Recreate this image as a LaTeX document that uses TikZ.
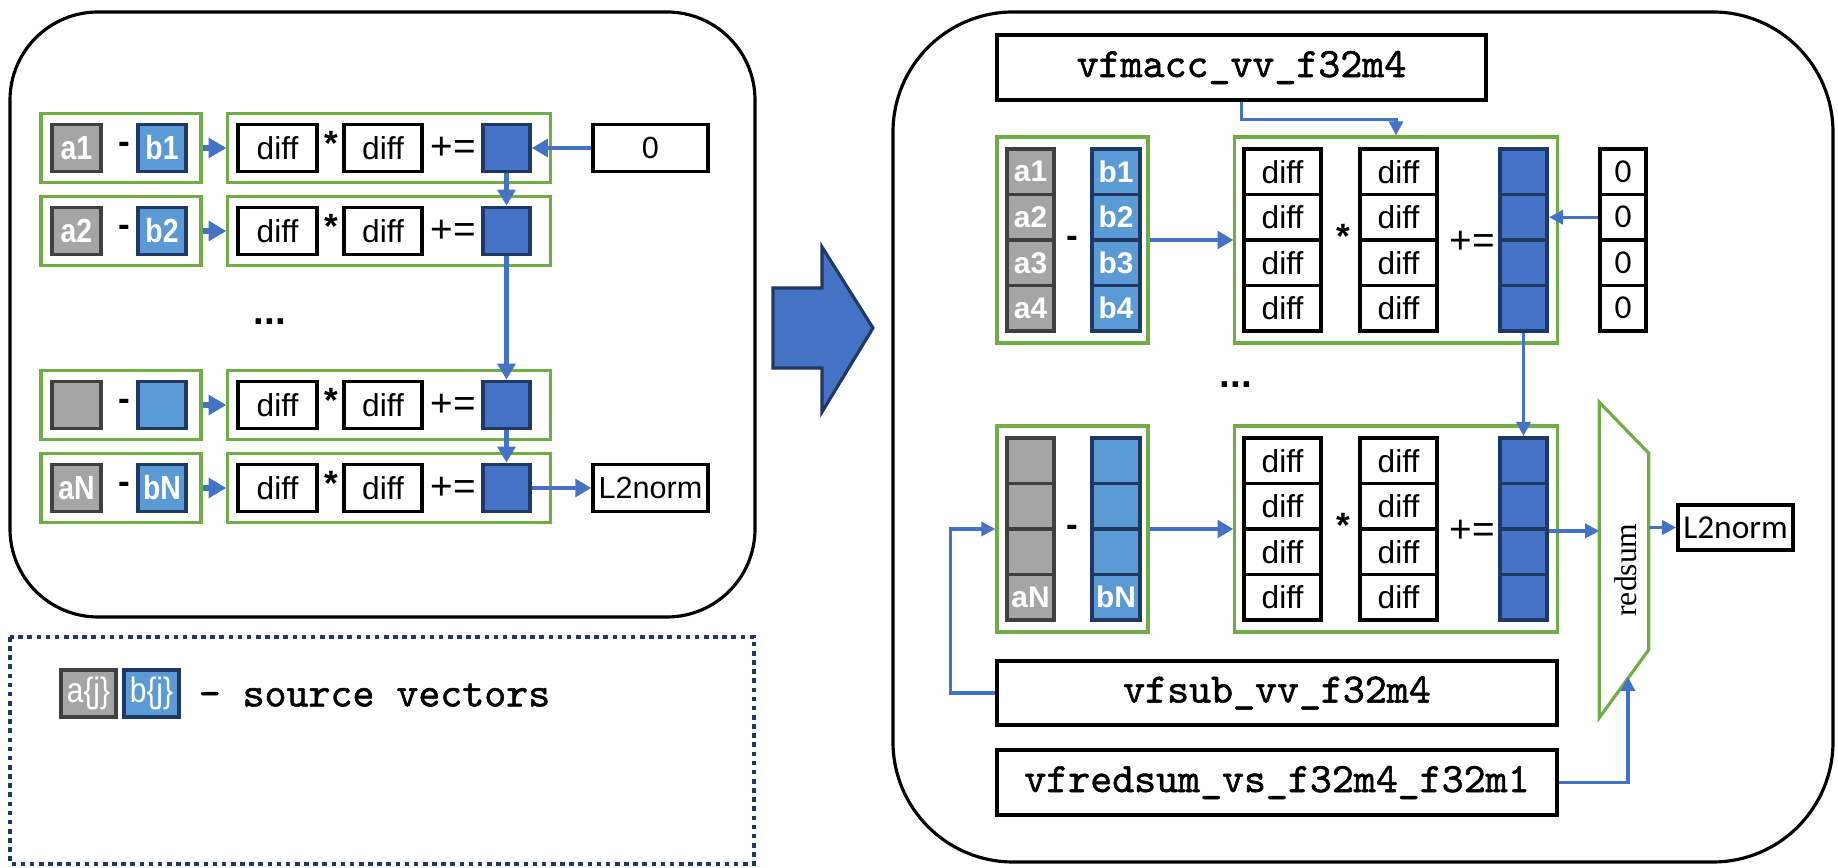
\documentclass[tikz,border=0pt]{standalone}
\usepackage{fontspec}
\setmainfont{Liberation Sans}
\newfontfamily\narrowfont{Liberation Sans}[FakeStretch=0.85]
\newfontfamily\calfont{Carlito}
\newfontfamily\timesfont{Liberation Serif}
\newfontfamily\codefont{lmmono10-regular.otf}[FakeBold=1.2]
\usetikzlibrary{arrows.meta,calc}
\definecolor{grn}{HTML}{70AD47}
\definecolor{gry}{HTML}{A5A5A5}
\definecolor{gryd}{HTML}{404040}
\definecolor{lblu}{HTML}{5B9BD5}
\definecolor{navyd}{HTML}{1F3864}
\definecolor{acc}{HTML}{4472C4}
\definecolor{accd}{HTML}{1F3864}
\definecolor{arrc}{HTML}{4472C4}
\definecolor{dotc}{HTML}{203864}
\tikzset{
 grnbox/.style={draw=grn, line width=0.9pt, inner sep=0pt},
 wcell/.style={draw=black, line width=1pt, fill=white, inner sep=0pt, font=\fontsize{9}{10}\selectfont},
 acellL/.style={draw=gryd, line width=1.1pt, fill=gry, text=white, inner sep=0pt, font=\narrowfont\bfseries\fontsize{9.5}{10}\selectfont},
 bcellL/.style={draw=navyd, line width=1.1pt, fill=lblu, text=white, inner sep=0pt, font=\narrowfont\bfseries\fontsize{9.5}{10}\selectfont},
 acellR/.style={draw=gryd, line width=1.1pt, fill=gry, text=white, inner sep=0pt, font=\bfseries\fontsize{8.5}{10}\selectfont},
 bcellR/.style={draw=navyd, line width=1.1pt, fill=lblu, text=white, inner sep=0pt, font=\bfseries\fontsize{8.5}{10}\selectfont},
 dcell/.style={draw=accd, line width=1.1pt, fill=acc, inner sep=0pt},
 codebox/.style={draw=black, line width=1pt, fill=white, inner sep=0pt, font=\codefont\fontsize{11.9}{13}\selectfont},
 sym/.style={inner sep=0pt, font=\fontsize{10}{11}\selectfont},
 arrL/.style={draw=arrc, line width=1.5pt, -{Triangle[length=5pt,width=5.5pt]}},
 arrM/.style={draw=arrc, line width=1.2pt, -{Triangle[length=4.5pt,width=5pt]}},
 arrS/.style={draw=arrc, line width=0.9pt, -{Triangle[length=4pt,width=4pt]}},
 panel/.style={draw=black, line width=0.9pt},
}
\begin{document}
\begin{tikzpicture}[x=0.01cm,y=-0.01cm]
\useasboundingbox (0,0) rectangle (1838,868);

% ---------------- left panel ----------------
\draw[panel, rounded corners=0.88cm] (10,12) rectangle (755,617);

\foreach \r/\Y/\la/\lb in {1/148/a1/b1, 2/231/a2/b2, 3/405//, 4/488/aN/bN}{
  \node[grnbox, minimum width=1.60cm, minimum height=0.69cm] (lgL\r) at (121,\Y) {};
  \node[grnbox, minimum width=3.22cm, minimum height=0.69cm] (lgR\r) at (389,\Y) {};
  \node[acellL, minimum width=0.49cm, minimum height=0.47cm] (la\r) at (76.5,\Y) {\la};
  \node[sym, font=\bfseries\fontsize{10}{11}\selectfont] (lm\r) at (124,\Y) {-};
  \node[bcellL, minimum width=0.48cm, minimum height=0.47cm] (lb\r) at (162,\Y) {\lb};
  \node[wcell, minimum width=0.79cm, minimum height=0.47cm] (ld\r a) at (277.5,\Y) {diff};
  \node[sym, font=\bfseries\fontsize{10}{11}\selectfont] (ls\r) at (331,\Y-5) {*};
  \node[wcell, minimum width=0.78cm, minimum height=0.47cm] (ld\r b) at (383,\Y) {diff};
  \node[sym, font=\fontsize{11}{12}\selectfont] (lp\r) at (453,\Y) {+=};
  \node[dcell, minimum width=0.47cm, minimum height=0.47cm] (lacc\r) at (506.5,\Y) {};
}
\node[font=\bfseries\fontsize{11}{12}\selectfont] (ldots) at (270,322) {...};
\node[wcell, minimum width=1.15cm, minimum height=0.47cm, font=\fontsize{8.7}{10}\selectfont] (lzero) at (650.5,148) {0};
\node[wcell, minimum width=1.15cm, minimum height=0.47cm, font=\fontsize{8.7}{10}\selectfont] (lnorm) at (650.5,488) {L2norm};

\foreach \r in {1,2,3,4}{ \draw[arrL] (lgL\r.east) -- (lgR\r.west); }
\draw[arrM] (lzero.west) -- (lacc1.east);
\draw[arrM] (lacc1.south) -- (lacc2.north);
\draw[arrM] (lacc2.south) -- (lacc3.north);
\draw[arrM] (lacc3.south) -- (lacc4.north);
\draw[arrM] (lacc4.east) -- (lnorm.west);

% ---------------- legend ----------------
\draw[draw=dotc, line width=1.3pt, dash pattern=on 1.3pt off 1.3pt] (10,637) rectangle (754,864);
\node[draw=gryd, line width=1.3pt, fill=gry, text=white, inner sep=0pt, minimum width=0.55cm, minimum height=0.47cm, font=\narrowfont\fontsize{10}{11}\selectfont] (legA) at (88.5,693.5) {a\{j\}};
\node[draw=navyd, line width=1.3pt, fill=lblu, text=white, inner sep=0pt, minimum width=0.55cm, minimum height=0.47cm, font=\narrowfont\fontsize{10}{11}\selectfont] (legB) at (151.5,693.5) {b\{j\}};
\node[anchor=west, inner sep=0pt, font=\codefont\fontsize{11.9}{13}\selectfont] (legT) at (198,695) {- source vectors};

% ---------------- big arrow ----------------
\draw[fill=acc, draw=navyd, line width=0.9pt, line join=miter] (773,288) -- (822,288) -- (822,247) -- (873,328) -- (822,412) -- (822,368) -- (773,368) -- cycle;

% ---------------- right panel ----------------
\draw[panel, rounded corners=1.2cm] (893,12) rectangle (1833,862);

\node[codebox, minimum width=4.89cm, minimum height=0.65cm] (vfmacc) at (1241.5,67.5) {vfmacc\_vv\_f32m4};

\foreach \r/\Y in {1/240, 2/529}{
  \node[grnbox, minimum width=1.51cm, minimum height=2.06cm] (rgL\r) at (1072.5,\Y) {};
  \node[grnbox, minimum width=3.22cm, minimum height=2.06cm] (rgR\r) at (1396,\Y) {};
  \node[sym, font=\bfseries\fontsize{10}{11}\selectfont] (rm\r) at (1072,\Y+2) {-};
  \node[sym, font=\bfseries\fontsize{10}{11}\selectfont] (rs\r) at (1343,\Y-4) {*};
  \node[sym, font=\fontsize{11}{12}\selectfont] (rp\r) at (1472,\Y+2) {+=};
  \foreach \i in {0,1,2,3}{
    \node[wcell, minimum width=0.77cm, minimum height=0.455cm] (rd\r\i a) at (1282.5,{\Y-91+22.75+45.5*\i}) {diff};
    \node[wcell, minimum width=0.77cm, minimum height=0.455cm] (rd\r\i b) at (1398.5,{\Y-91+22.75+45.5*\i}) {diff};
    \node[dcell, minimum width=0.47cm, minimum height=0.455cm] (racc\r\i) at (1523.5,{\Y-91+22.75+45.5*\i}) {};
  }
}
\foreach \i/\ta/\tb in {0/a1/b1, 1/a2/b2, 2/a3/b3, 3/a4/b4}{
  \node[acellR, minimum width=0.47cm, minimum height=0.455cm] (ra1\i) at (1030.5,{149+22.75+45.5*\i}) {\ta};
  \node[bcellR, minimum width=0.48cm, minimum height=0.455cm] (rb1\i) at (1116,{149+22.75+45.5*\i}) {\tb};
  \node[wcell, minimum width=0.46cm, minimum height=0.455cm, font=\calfont\fontsize{9.5}{10}\selectfont] (rz\i) at (1623,{149+22.75+45.5*\i}) {0};
}
\foreach \i/\ta/\tb in {0//, 1//, 2//, 3/aN/bN}{
  \node[acellR, minimum width=0.47cm, minimum height=0.455cm] (ra2\i) at (1030.5,{438+22.75+45.5*\i}) {\ta};
  \node[bcellR, minimum width=0.48cm, minimum height=0.455cm] (rb2\i) at (1116,{438+22.75+45.5*\i}) {\tb};
}
\node[font=\bfseries\fontsize{11}{12}\selectfont] (rdots) at (1236,385) {...};

\node[codebox, minimum width=5.60cm, minimum height=0.64cm] (vfsub) at (1277,693) {vfsub\_vv\_f32m4};
\node[codebox, minimum width=5.60cm, minimum height=0.65cm] (vfred) at (1277,782.5) {vfredsum\_vs\_f32m4\_f32m1};

% redsum block
\node[inner sep=0pt, minimum width=0.48cm, minimum height=3.14cm] (redsum) at (1624,560) {};
\draw[grnbox, line join=miter] (redsum.north west) -- ($(redsum.north east)+(0,51)$) -- ($(redsum.south east)+(0,-68)$) -- (redsum.south west) -- cycle;
\node[rotate=90, inner sep=0pt, font=\timesfont\fontsize{9}{10}\selectfont] (redsumtxt) at (1626,570) {redsum};
\node[wcell, minimum width=1.15cm, minimum height=0.45cm, font=\calfont\fontsize{9.5}{10}\selectfont] (rnorm) at (1735.5,527.5) {L2norm};
\coordinate (rsb) at (1628,677);

% right connectors
\draw[arrS] (vfmacc.south) -- ++(0,18) -| (rgR1.north);
\draw[arrM] (rgL1.east) -- (rgR1.west);
\draw[arrM] (rgL2.east) -- (rgR2.west);
\draw[arrS] (rz1.west) -- (rz1.west -| racc11.east);
\draw[arrS] (racc13.south) -- (racc20.north);
\draw[arrS] (vfsub.west) -- ++(-45,0) |- (rgL2.west);
\draw[arrS] (racc21.south east) -- (racc21.south east -| redsum.west);
\draw[arrS] (rnorm.west -| redsum.east) -- (rnorm.west);
\draw[arrS] (vfred.east) -| (rsb);
\end{tikzpicture}
\end{document}
